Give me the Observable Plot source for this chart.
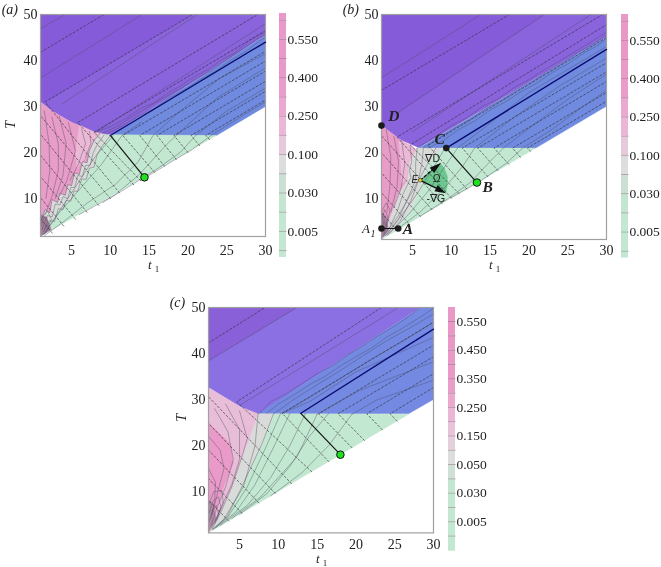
<!DOCTYPE html>
<html><head><meta charset="utf-8">
<script src="https://cdn.jsdelivr.net/npm/d3@7"></script>
<script src="https://cdn.jsdelivr.net/npm/@observablehq/plot@0.6"></script>
<style>
html,body{margin:0;padding:0;background:#fff;overflow:hidden}
#page{position:relative;width:661px;height:567px}
#page>div,#page>svg{position:absolute}
svg{overflow:visible;filter:blur(0.35px)}
</style></head><body><div id="page"></div>
<script>
// ---------- shared ticks
const tTicks = [5,10,15,20,25,30];
const TTicks = [10,20,30,40,50];

// ---------- colour bars
const barLabels6 = ["0.005","0.030","0.100","0.250","0.400","0.550"];
const barTicks6 = [1,3,5,7,9,11];
const barEdges6 = [-0.36,0,1,2,3,4,5,6,7,8,9,10,11,12,12.34];
const barColors6 = ["#c3e8d1","#c3e8d1","#c3e8d1","#c4e6d1","#ccdfd5","#dcdedd","#e6cadb","#ecb6d6","#eba8d0","#ea9dcb","#e99ac9","#e998c8","#e998c8","#e998c8"];
const barLabels8 = ["0.005","0.030","0.050","0.150","0.250","0.350","0.450","0.550"];
const barTicks8 = [1,3,5,7,9,11,13,15];
const barEdges8 = [-1.06,0,1,2,3,4,5,6,7,8,9,10,11,12,13,14,15,15.98];
const barColors8 = ["#c3e8d1","#c3e8d1","#c3e8d1","#c3e8d1","#c4e6d1","#cfe0d6","#dddfde","#e6cfdc","#e8c4da","#ecb6d6","#eca9d0","#ea9dcb","#e99ac9","#e99ac9","#e998c8","#e998c8","#e998c8"];

// ---------- panel (a) regions
const aPurple = [[1,31],[2.5,29],[5,26.6],[8,24.4],[10,23.7],[30,45.5],[30,50],[1,50]];
const aPurpleDark = [[1,31],[1.6,31],[20.6,50],[1,50]];
const aBlue = [[10,23.7],[23.7,23.7],[30,30],[30,45.5]];
const aGreen = [[1,1.74],[23.7,23.7],[8.7,23.9],[1,5]];
const aGray = [[1,1.74],[1,4.8],[1.6,7.6],[2.2,6.9],[2.5,9.8],[3.2,9.1],[3.5,11.2],[4.2,10.7],[4.5,13],[5,12.8],[5.4,15.6],[6,15.2],[6.4,18],[7,17.8],[7.3,20.4],[7.9,22.6],[8.7,24.2],[10,23.7],[9,21.5],[8.3,19.6],[7.9,16.8],[7.3,16.6],[6.9,14.2],[6.3,14.2],[5.8,11.6],[5.3,11.6],[4.9,9.4],[4.3,9.6],[3.9,7.6],[3.3,7.8],[2.8,5],[2.2,5.2],[1.4,2.8]];
const aPink = [[1,1.74],[1,31],[2.5,29],[5,26.6],[8,24.4],[8.7,24.2],[7.9,22.6],[7.3,20.4],[7,17.8],[6.4,18],[6,15.2],[5.4,15.6],[5,12.8],[4.5,13],[4.2,10.7],[3.5,11.2],[3.2,9.1],[2.5,9.8],[2.2,6.9],[1.6,7.6],[1,4.8]];
const aPinkLight = [[5.7,16.4],[5.5,20],[6,26],[8,24.4],[8.7,24.2],[7.9,22.6],[7.3,20.4],[6.4,18]];
const aCorner = [[1,1.74],[1,6.5],[1.8,6],[2.4,3.2]];
// ---------- panel (a) lines
const aDashed = [
 [[1,41.8],[9.2,50]],
 [[2.5,2.5],[1,5.6]],[[4,4],[1,10.2]],[[5.5,5.5],[1,14.8]],[[7,7],[1,19.4]],[[8.5,8.5],[1,24]],[[10,10],[1,28]],
 [[11.2,11.2],[5,23.8],[1.6,31],[20.6,50]],
 [[13,13],[5.8,26.5],[29,50]],
 [[13.9,13.9],[7.9,24.4],[30,46.5]],
 [[15.7,15.7],[11.6,23.7],[30,42]],[[17,17],[13.8,23.7],[30,39.9]],[[18.5,18.5],[16,23.7],[30,37.7]],
 [[20,20],[18.2,23.7],[30,35.5]],[[21.5,21.5],[20.4,23.7],[30,33.3]],[[22.8,22.8],[22.3,23.7],[30,31.4]]
];
const aSolid = [
 [[1,46.9],[4.2,50]],[[1,36.2],[14.1,50]],[[3.8,30.6],[21.2,50]],[[8.1,24.4],[30,48]],
 [[6,6.5],[10.6,10.8],[13.6,15],[17.3,21.8],[19,24.5],[23.8,31.9],[30,38.4]],
 [[9,9.1],[13,13.2],[16,16.4],[19,20],[21,23.7],[25,29],[30,34]],
 [[14,14],[18,18.1],[20.5,20.6],[23,23.7],[27,28],[30,31]],
 [[1.5,1.9],[4,5],[7,9],[10.6,13],[13.6,18],[15.5,23.7],[19,29],[24,36],[30,41.5]],
 [[1.4,2.2],[2.9,5.9],[5.5,12.5],[8,19],[10.4,23.7]],
 [[1.5,2.3],[3.3,6.7],[6.3,12.5],[8.9,17.5],[11.5,23.7],[14,26.6]],
 [[1.2,3.2],[1.9,6.3],[2.5,6],[2.9,8.8],[3.5,8.6],[3.9,10.4],[4.5,10],[4.9,12.4],[5.4,12.4],[5.8,15],[6.4,14.8],[6.8,17.2],[7.4,17.2],[7.8,20],[8.4,22],[9.2,23.8]],
 [[1.4,2.8],[2.2,5.2],[2.8,5],[3.3,7.8],[3.9,7.6],[4.3,9.6],[4.9,9.4],[5.3,11.6],[5.8,11.6],[6.3,14.2],[6.9,14.2],[7.3,16.6],[7.9,16.8],[8.3,19.6],[9,21.5],[10,23.7]],
 [[1,4.8],[1.6,7.6],[2.2,6.9],[2.5,9.8],[3.2,9.1],[3.5,11.2],[4.2,10.7],[4.5,13],[5,12.8],[5.4,15.6],[6,15.2],[6.4,18],[7,17.8],[7.3,20.4],[7.9,22.6],[8.7,24.2]],
 [[2.46,27.7],[3.3,21.9],[3.3,16.1],[2.46,10.3],[1.6,6.5]],[[4.6,26.5],[5.5,20.4],[4.4,13.9],[3.5,10.7]],
 [[6.3,25.1],[6.8,21.9],[5.9,17.5],[4.8,13.9]],[[1.5,29],[2.1,22],[2.2,16],[1.7,10]],
 [[3.4,28],[4.3,22],[3.9,15],[2.9,10]],[[7.3,24.6],[7.5,22],[6.8,19]],
 [[1,4],[1.5,6],[1.9,5],[1.5,3.3]],[[1,5.5],[1.9,7.3],[2.4,5.5],[1.8,3]],
 [[8,24.4],[10,25.6],[12,27.4],[14,29.7],[15.5,30.7],[17.5,33],[19,34.4],[21,36.7],[22.5,37.9],[24.5,40.3],[26,41.6],[28,44.4],[30,46.2]],
 [[9,24.2],[11,25.8],[13,28],[15,30],[17,32],[19,33.8],[21,36],[23,37.8],[25,40.2],[27,42.4],[29,44.8],[30,45.6]],
 [[9.5,24],[11.5,25.7],[13.5,27.8],[15.5,29.4],[17.5,31.8],[19.5,33.6],[21.5,35.8],[23.5,37.6],[25.5,40],[27.5,42],[29.5,44.6],[30,45]]
];
const aPathLow = [[14.4,14.6],[10,23.7]];
const aPathHigh = [[10,23.7],[30,44]];
const aMark = [[14.4,14.6]];

// ---------- panel (b) regions
const bPurple = [[1,25.8],[3.45,22.7],[5.8,21],[30,45.2],[30,50],[1,50]];
const bPurpleDark = [[1,25.8],[3,28.5],[22,50],[1,50]];
const bBlue = [[5.8,20.9],[20.9,20.9],[30,30],[30,45.2]];
const bGreen = [[1,1],[20.9,20.9],[8.9,20.9],[6.9,17.6],[6,12.5],[5,8.1],[3.2,3.8]];
const bGray = [[1,1],[3.2,3.8],[5,8.1],[6,12.5],[6.9,17.6],[8.9,20.9],[5.4,20.9],[4.5,17.6],[4.3,13.9],[3.2,11],[2.6,8.1],[1.7,4.15],[1,2]];
const bPink = [[1,1],[1,25.8],[3.45,22.7],[5,21.2],[5.4,20.5],[4.5,17.6],[4.3,13.9],[3.2,11],[2.6,8.1],[1.7,4.15]];
const bPinkLight = [[3.6,13.2],[3.5,17],[3.2,22.8],[5,21.2],[5.4,20.5],[4.5,17.6],[4.3,13.9]];
const bCorner = [[1,1],[1,7],[1.6,6],[1.9,3]];
const bOmega = [[6,13.9],[8.6,17.6],[9.1,16.5],[9.5,14.8],[9.5,13],[9.3,11.1]];
// ---------- panel (b) lines
const bDashed = [
 [[1,33.5],[17.5,50]],
 [[3,3],[1,6.8]],[[4.5,4.5],[1,11.2]],[[6,6],[1,15.5]],[[7.5,7.5],[1,19.9]],[[8.8,8.8],[1,23.6]],
 [[10,10],[3,23.3],[29.5,50]],[[11,11],[4.7,21.6],[30,47.8]],[[12,12],[7,21.5],[30,45]],
 [[14.7,14.7],[11.4,20.9],[30,39.5]],[[16,16],[13.4,20.9],[30,37.5]],[[17.4,17.4],[15.5,20.9],[30,35.4]],
 [[18.9,18.9],[17.9,20.9],[30,33]],[[20.2,20.2],[19.8,20.9],[30,31.1]]
];
const bSolid = [
 [[1,36.2],[13.8,50]],[[3,28.5],[22,50]],[[5,24.5],[28,50]],
 [[1.3,1.8],[3.1,6],[5.1,11.8],[6.8,17],[8,20.9]],
 [[1.5,1.8],[3.5,6],[5.8,11.5],[7.8,17],[9.2,20.9]],
 [[1.8,2],[4.5,6.5],[7,11.5],[9,16.5],[10.8,20.9],[14,25],[20,33],[30,43]],
 [[3,3.2],[6,7],[9,12],[11.5,17],[13,20.9],[18,27.5],[24,34.5],[30,40.5]],
 [[6,6.1],[9.5,9.8],[12.5,13.5],[15,18],[16.7,20.9],[21,26.5],[25,31.5],[30,37]],
 [[10,10.1],[14,14],[17,17.5],[19.2,20.9],[23,25],[27,30],[30,33.5]],
 [[1.6,25],[2.2,19],[2.1,13],[1.7,7]],[[2.6,23.5],[3.2,18],[3,12.5],[2.2,7]],
 [[3.6,22.5],[4,17.5],[3.5,12],[2.6,8]],[[4.7,21.2],[4.9,18],[4.6,16],[4.8,14.5],[3.8,11],[3,7],[2,3.5]],
 [[5.6,20.9],[5.4,17.5],[5.4,14],[4.4,10],[3.2,5.5],[1.6,2]],[[6.4,20.9],[6.2,17.5],[5.7,13.5],[4.8,9.5],[3.4,5],[1.8,2]],
 [[1,5],[1.4,7.5],[1.8,6],[1.5,3]],[[1,3],[1.3,5],[1.6,4],[1.3,2]],[[1,7],[1.6,9],[2.1,7.5],[1.7,4]],
 [[5.8,21.2],[8,23.5],[10,25.8],[12,27.5],[14,30],[16,31.6],[18,34],[20,35.8],[22,38],[24,39.9],[26,42],[28,44],[30,46.2]],
 [[6.5,21],[8.5,23.2],[10.5,25.4],[12.5,27.2],[14.5,29.6],[16.5,31.4],[18.5,33.6],[20.5,35.5],[22.5,37.7],[24.5,39.6],[26.5,41.9],[28.5,43.7],[30,45.5]],
 [[7,20.9],[9,22.6],[11,25],[13,26.8],[15,29.2],[17,31],[19,33.2],[21,35],[23,37.4],[25,39.2],[27,41.5],[29,43.4],[30,44.8]]
];
const bPathLow = [[13.3,13.4],[9.35,20.9]];
const bPathHigh = [[9.35,20.9],[30,42.4]];
const bLink = [[1,3.4],[3.15,3.4]];
const bMark = [[13.3,13.4]];
const bBlack = [[1,25.8],[9.35,20.9],[1,3.4],[3.15,3.4]];
const bLetters = [["B",14.7,12.4],["C",8.5,22.8],["D",2.6,27.8],["A",4.4,3.3]];
const bGradD = [[6,13.9],[7.5,16.05]];
const bGradG = [[6,13.9],[8.04,12.18]];

// ---------- panel (c) regions
const cPurple = [[1,32.6],[5.1,28.4],[7.4,26.8],[28.3,50],[1,50]];
const cPurpleDark = [[1,38.4],[12.4,50],[1,50]];
const cBlue = [[7.4,26.9],[26.8,26.9],[30,30],[30,50],[28.3,50]];
const cGreen = [[1,1],[26.8,26.8],[9.4,26.9],[7.9,20.4],[6.6,15.4],[5.1,10.3],[3.4,4.5]];
const cGray = [[1,1],[3.4,4.5],[5.1,10.3],[6.6,15.4],[7.9,20.4],[9.4,26.9],[7.4,26.9],[6.2,21.2],[5.3,17.5],[4,11],[2.7,5.9]];
const cPinkLight = [[1,1],[2.7,5.9],[4,11],[5.3,17.5],[6.2,21.2],[7.4,26.9],[5.1,28.4],[1,32.6]];
const cPink = [[1,25],[3.8,20.4],[4.2,16.1],[3.1,11.7],[2.3,7.4],[1,2]];
const cCorner = [[1,1],[1,8],[1.6,7.5],[2,4]];
// ---------- panel (c) lines
const cDashed = [
 [[1,42.3],[8.3,50]],
 [[3.6,3.6],[1,8.1]],[[5.3,5.3],[1,12.8]],[[7.5,7.5],[1,19]],[[9.6,9.6],[1,24.8]],[[11.7,11.7],[1,30.6]],
 [[14.3,14.3],[4.65,29.5],[23.3,50]],[[16.5,16.5],[10.5,27],[30,46.8]],
 [[19.5,19.5],[15.2,26.9],[30,41.8]],[[21.1,21.1],[17.7,26.9],[30,39.3]],
 [[23.4,23.4],[21.4,26.9],[30,35.6]],[[25.3,25.3],[24.4,26.9],[30,32.6]]
];
const cSolid = [
 [[1,38.4],[12.4,50]],[[5.1,28.8],[25.5,50]],
 [[1.8,28],[3.5,23],[4.2,17],[3.2,11],[2,6],[1.3,2.5]],
 [[3.2,29],[5,23.5],[5,17],[4,11.5],[2.6,6.5],[1.4,2]],
 [[5,27.5],[6,21.5],[5.3,17.5],[4,11],[2.7,5.9],[1.5,1.9]],
 [[1,22],[2.5,19],[3,15],[2.2,10],[1.5,5]],[[1,15],[1.9,12],[1.8,8],[1.3,4]],
 [[7.4,27],[7,20],[5.5,11],[3,4],[1.5,1.7]],
 [[9.4,27],[7.9,20.4],[5.1,10.3],[3.4,4.5],[1.6,1.8]],
 [[10.3,27],[8.5,20],[6,11],[3.5,4.5],[1.8,2]],
 [[11.5,27],[9.5,20],[7,11.5],[4.5,5.5],[2,2.2]],
 [[13.5,27],[11.5,20],[9,13],[6,7],[2.5,2.6]],
 [[15,26.8],[12.4,17.5],[7.7,8.8],[4,4.1]],
 [[15,26.8],[20.5,32],[30,38.2]],
 [[16.5,27],[14,22],[11.5,15.5],[8.5,9.5],[5,5]],
 [[19.5,26.8],[16.5,20],[13,14],[9,9]],
 [[19.5,26.8],[22.7,29.9],[30,34.2]],
 [[10.5,27],[14,29.5],[20,36],[30,43.5]],
 [[1,3],[1.5,6],[2,7],[2.3,5],[1.8,3]],[[1,5],[1.6,8],[2.3,8.8],[2.6,6.6],[1.9,3.5]],[[1,7],[1.7,10],[2.7,10.2],[2.9,7.5],[2.1,4]],
 [[7.6,27],[9,29.5],[11,31.2],[13,33.4],[15,35.6],[17,37.3],[19,39.7],[21,41.8],[23,44],[25,46],[27,48.3],[28.3,50]],
 [[8.5,27],[10,29],[12,31],[14,33.2],[16,35],[18,37.3],[20,39.3],[22,41.2],[24,43.6],[26,45.5],[28,47.6],[30,49.8]],
 [[9.5,27],[12,30],[15,33.2],[18,36.3],[21,39.6],[24,42.8],[27,45.6],[30,48.6]],
 [[10.5,27],[14,30.4],[18,34.6],[22,38.8],[26,42.6],[30,46.8]]
];
const cPathLow = [[18,18],[12.9,27]];
const cPathHigh = [[12.9,27],[30,45.3]];
const cMark = [[18,18]];

// ---------- palette
const PURPLE="#8964dd", PURPLE_D="#865bda", BLUE="#6f8adf", GREEN="#c3e8d1", GRAY="#d8dbd8", PINK="#e89cc8", PINK_L="#ebb8d6", MAUVE="#a57d9c";
const SERIF="'Liberation Serif', serif";
const SANS="'Liberation Sans', sans-serif";
const tx=d=>d[0], ty=d=>d[1];
const poly=(pts,fill)=>Plot.line(pts,{x:tx,y:ty,fill,stroke:fill,strokeWidth:0.3});
const lines=(list,o)=>list.map(p=>Plot.line(p,{x:tx,y:ty,...o}));

function panel({left,top,height,yMin,regions,solid,dashed,pathLow,pathHigh,mark,letter,extra=[],yLabel,titleT,subT,letterT,tickPad=7}){
  const marginLeft=40,marginTop=14,marginBottom=40,marginRight=6;
  const svg=Plot.plot({
    width:225+marginLeft+marginRight,height:height+marginTop+marginBottom,
    marginLeft,marginRight,marginTop,marginBottom,
    x:{domain:[1,30]},y:{domain:[yMin,50]},
    style:{fontFamily:SERIF,background:"transparent",color:"#222"},
    marks:[
      ...regions.map(([p,c])=>poly(p,c)),
      ...lines(solid,{stroke:"#4c4c5c",strokeWidth:0.55,strokeOpacity:0.75}),
      ...lines(dashed,{stroke:"#2a2a2a",strokeWidth:0.7,strokeDasharray:"2,2.2",strokeOpacity:0.85}),
      Plot.frame({stroke:"#a0a0a0",strokeWidth:1.2}),
      Plot.line(pathLow,{x:tx,y:ty,stroke:"#151515",strokeWidth:1.2}),
      Plot.line(pathHigh,{x:tx,y:ty,stroke:"#0a0a70",strokeWidth:1.3}),
      ...extra,
      Plot.dot(mark,{x:tx,y:ty,r:3.8,fill:"#1fe01f",stroke:"#111",strokeWidth:1}),
      Plot.axisX({ticks:tTicks,tickSize:0,tickPadding:tickPad,fontSize:14,fontFamily:SERIF,label:null}),
      Plot.axisY({ticks:TTicks,tickSize:0,tickPadding:3,fontSize:14,fontFamily:SERIF,label:null}),
      Plot.text([letter],{x:[-4],y:[letterT],text:d=>d,textAnchor:"start",fontStyle:"italic",fontSize:14,fontFamily:SERIF}),
      Plot.text(["t"],{x:[15.1],y:[titleT],text:d=>d,fontStyle:"italic",fontSize:13,fontFamily:SERIF}),
      Plot.text(["1"],{x:[16],y:[subT],text:d=>d,fontSize:9,fontFamily:SERIF}),
      ...(yLabel?[Plot.text(["T"],{x:[yLabel],y:[26],text:d=>d,fontStyle:"italic",fontSize:14,fontFamily:SERIF,rotate:-90})]:[])
    ]
  });
  svg.style.left=(left-marginLeft)+"px";svg.style.top=(top-marginTop)+"px";
  document.getElementById("page").append(svg);
}

function colorbar({left,top,height,edges,colors,ticks,labels}){
  const band=colors.map((c,i)=>({y1:edges[i],y2:edges[i+1],c}));
  const svg=Plot.plot({
    width:57,height,marginLeft:0,marginRight:50,marginTop:0,marginBottom:0,
    x:{domain:[0,1],axis:null},y:{domain:[edges[0],edges[edges.length-1]]},
    style:{fontFamily:SERIF,background:"transparent",color:"#222"},
    marks:[
      Plot.rectY(band,{x1:0,x2:1,y1:"y1",y2:"y2",fill:"c",inset:0}),
      Plot.ruleY(edges.slice(1,-1),{x1:0,x2:1.1,stroke:"#8a6a80",strokeWidth:0.6,strokeOpacity:0.8}),
      Plot.axisY({anchor:"right",ticks,tickSize:0,tickPadding:1,fontSize:13.5,fontFamily:SERIF,label:null,tickFormat:d=>labels[ticks.indexOf(d)]})
    ]
  });
  svg.style.left=left+"px";svg.style.top=top+"px";
  document.getElementById("page").append(svg);
}

panel({left:40,top:14,height:222,yMin:1.74,letter:"(a)",letterT:51,yLabel:-2.9,titleT:-4.4,subT:-5.4,tickPad:9,
  regions:[[aPurple,PURPLE],[aPurpleDark,PURPLE_D],[aBlue,BLUE],[aGreen,GREEN],[aGray,GRAY],[aPink,PINK],[aPinkLight,PINK_L],[aCorner,MAUVE]],
  solid:aSolid,dashed:aDashed,pathLow:aPathLow,pathHigh:aPathHigh,mark:aMark});

const textAt=(s,t,T,o)=>Plot.text([s],{x:[t],y:[T],text:d=>d,...o});
panel({left:381,top:14.3,height:225,yMin:1,letter:"(b)",letterT:51,titleT:-4.5,subT:-5.5,tickPad:6,
  regions:[[bPurple,PURPLE],[bPurpleDark,PURPLE_D],[bBlue,BLUE],[bGreen,GREEN],[bGray,GRAY],[bPink,PINK],[bPinkLight,PINK_L],[bCorner,MAUVE],[bOmega,"#6cc68e"]],
  solid:bSolid,dashed:bDashed,pathLow:bPathLow,pathHigh:bPathHigh,mark:bMark,
  extra:[
    Plot.line(bLink,{x:tx,y:ty,stroke:"#111",strokeWidth:1.2}),
    Plot.line(bGradD,{x:tx,y:ty,stroke:"#111",strokeWidth:1.3,strokeDasharray:"3,2"}),
    Plot.line(bGradG,{x:tx,y:ty,stroke:"#111",strokeWidth:1.4}),
    Plot.vector(bGradD.slice(1),{x:tx,y:ty,rotate:50,length:12,r:3.5,shape:"spike",anchor:"start",fill:"#111",stroke:"none"}),
    Plot.vector(bGradG.slice(1),{x:tx,y:ty,rotate:117,length:11,r:3.5,shape:"spike",anchor:"start",fill:"#111",stroke:"none"}),
    Plot.dot(bBlack,{x:tx,y:ty,r:3.3,fill:"#1c1c1c"}),
    Plot.dot(bGradD.slice(0,1),{x:tx,y:ty,r:1.8,fill:"#f2d020",stroke:"#222",strokeWidth:0.5}),
    Plot.text(bLetters,{x:d=>d[1],y:d=>d[2],text:d=>d[0],fontWeight:"bold",fontStyle:"italic",fontSize:15.5,fontFamily:SERIF}),
    textAt("A",-1,3.3,{fontStyle:"italic",fontSize:13,fontFamily:SERIF}),
    textAt("1",-0.1,2.2,{fontStyle:"italic",fontSize:10,fontFamily:SERIF}),
    textAt("E",5.3,13.9,{fontFamily:SANS,fontStyle:"italic",fontSize:10}),
    textAt("Ω",8.1,14.3,{fontFamily:SANS,fontSize:10.5}),
    textAt("∇D",7.6,18.7,{fontFamily:SANS,fontSize:10.5}),
    textAt("-∇G",8,9.9,{fontFamily:SANS,fontSize:10.5})
  ]});

panel({left:208.3,top:307.3,height:225.4,yMin:1,letter:"(c)",letterT:51,yLabel:-2.5,titleT:-4.7,subT:-5.6,tickPad:6,
  regions:[[cPurple,"#8a70e3"],[cPurpleDark,"#8a60d9"],[cBlue,"#7389e2"],[cGreen,GREEN],[cGray,GRAY],[cPinkLight,"#e8bdd8"],[cPink,"#e99ac8"],[cCorner,"#b58aa8"]],
  solid:cSolid,dashed:cDashed,pathLow:cPathLow,pathHigh:cPathHigh,mark:cMark});

colorbar({left:279,top:13,height:244,edges:barEdges6,colors:barColors6,ticks:barTicks6,labels:barLabels6});
colorbar({left:620.7,top:13.7,height:243.6,edges:barEdges6,colors:barColors6,ticks:barTicks6,labels:barLabels6});
colorbar({left:447.7,top:307,height:243.7,edges:barEdges8,colors:barColors8,ticks:barTicks8,labels:barLabels8});
</script></body></html>
